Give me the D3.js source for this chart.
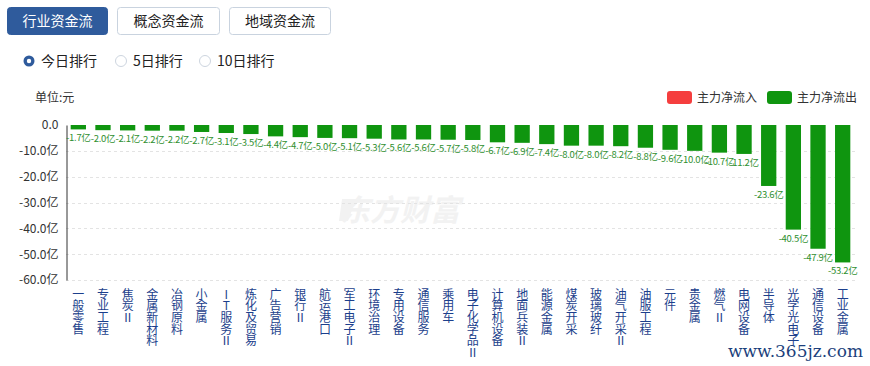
<!DOCTYPE html>
<html><head><meta charset="utf-8">
<script src="https://cdn.jsdelivr.net/npm/d3@7"></script>
<style>body{margin:0;background:#fff;}svg{display:block;font-family:"Microsoft YaHei","Noto Sans CJK SC",sans-serif;}
.vlab{writing-mode:vertical-rl;text-orientation:upright;}</style>
</head><body>
<svg id="c" width="870" height="366"></svg>
<script>
const categories = ["一般零售","专业工程","焦炭Ⅱ","金属新材料","冶钢原料","小金属","IT服务Ⅱ","炼化及贸易","广告营销","银行Ⅱ","航运港口","军工电子Ⅱ","环境治理","专用设备","通信服务","乘用车","电子化学品Ⅱ","计算机设备","地面兵装Ⅱ","能源金属","煤炭开采","玻璃玻纤","油气开采Ⅱ","油服工程","元件","贵金属","燃气Ⅱ","电网设备","半导体","光学光电子","通信设备","工业金属"];
const values = [-1.7,-2.0,-2.1,-2.2,-2.2,-2.7,-3.1,-3.5,-4.4,-4.7,-5.0,-5.1,-5.3,-5.6,-5.6,-5.7,-5.8,-6.7,-6.9,-7.4,-8.0,-8.0,-8.2,-8.8,-9.6,-10.0,-10.7,-11.2,-23.6,-40.5,-47.9,-53.2];
const yTicks = [0,-10,-20,-30,-40,-50,-60];
const tabs = ["行业资金流","概念资金流","地域资金流"];
const radios = ["今日排行","5日排行","10日排行"];
const legendItems = [{name:"主力净流入",color:"#f53e3e"},{name:"主力净流出",color:"#0f950f"}];

const svg = d3.select("#c");
const L = 66, R = 855, T = 125, B = 280;
const x = d3.scaleBand().domain(categories).range([L, R]).paddingInner(0.38).paddingOuter(0.19);
const y = d3.scaleLinear().domain([0, -60]).range([T, B]);

// tabs
const tabX = [7, 117, 229], tabW = [100, 102, 101];
tabs.forEach((t,i)=>{
  const g = svg.append("g");
  g.append("rect").attr("x",tabX[i]+0.5).attr("y",7.5).attr("width",tabW[i]).attr("height",27).attr("rx",3)
    .attr("fill", i===0?"#2f5b9c":"#fff").attr("stroke", i===0?"#2f5b9c":"#c9d3df");
  g.append("text").attr("x",tabX[i]+tabW[i]/2+0.5).attr("y",26).attr("text-anchor","middle")
    .attr("font-size",14).attr("fill", i===0?"#fff":"#222").text(t);
});
// radios
const rX = [29, 121, 205];
radios.forEach((t,i)=>{
  if(i===0){
    svg.append("circle").attr("cx",rX[i]).attr("cy",61).attr("r",5.5).attr("fill","#2f5b9c");
    svg.append("circle").attr("cx",rX[i]).attr("cy",61).attr("r",2.2).attr("fill","#fff");
  } else {
    svg.append("circle").attr("cx",rX[i]).attr("cy",61).attr("r",5.5).attr("fill","#fff").attr("stroke","#cdd5df");
  }
  svg.append("text").attr("x",rX[i]+12).attr("y",66).attr("font-size",14).attr("fill","#222").text(t);
});
// unit
svg.append("text").attr("x",35).attr("y",102).attr("font-size",12).attr("fill","#333").text("单位:元");
// legend
const lgX = [667, 767];
legendItems.forEach((d,i)=>{
  svg.append("rect").attr("x",lgX[i]).attr("y",91).attr("width",25).attr("height",13).attr("rx",3).attr("fill",d.color);
  svg.append("text").attr("x",lgX[i]+30).attr("y",102).attr("font-size",12).attr("fill","#333").text(d.name);
});

// watermark logo
const wm = svg.append("g");
wm.append("text").attr("x",400).attr("y",221).attr("text-anchor","middle").attr("font-size",30)
  .attr("font-weight","bold").attr("font-style","italic").attr("fill","#f2f2f2").text("东方财富");
wm.append("path").attr("d","M342,199 l14,0 l-8,22 l-9,0 z").attr("fill","#f2f2f2");

// gridlines
svg.append("g").selectAll("line").data(yTicks.slice(1)).join("line")
  .attr("x1",L).attr("x2",R).attr("y1",d=>Math.round(y(d))+0.5).attr("y2",d=>Math.round(y(d))+0.5)
  .attr("stroke","#e3e3e3").attr("stroke-dasharray","3,3");

// y axis
const yAxis = d3.axisLeft(y).tickValues(yTicks).tickSize(0).tickPadding(8)
  .tickFormat(d=> d===0 ? "0.0" : d.toFixed(1)+"亿");
const ya = svg.append("g").attr("transform",`translate(${L+0.5},0)`).call(yAxis);
ya.select(".domain").attr("stroke","#333");
ya.selectAll("text").attr("font-size",12).attr("fill","#333").attr("font-family","\"Microsoft YaHei\",\"Noto Sans CJK SC\",sans-serif");

// bars
svg.append("g").selectAll("rect").data(values).join("rect")
  .attr("x",(d,i)=>x(categories[i])).attr("y",y(0)).attr("width",x.bandwidth())
  .attr("height",d=>y(d)-y(0)).attr("fill","#0f950f");

// value labels
svg.append("g").selectAll("text").data(values).join("text")
  .attr("x",(d,i)=>x(categories[i])+x.bandwidth()/2).attr("y",d=>y(d)+12)
  .attr("text-anchor","middle").attr("font-size",9.5).attr("fill","#2f8f2f").attr("letter-spacing","-0.3")
  .text(d=>d.toFixed(1)+"亿");

// x labels (vertical)
svg.append("g").selectAll("text").data(categories).join("text")
  .attr("class","vlab")
  .attr("x",d=>x(d)+x.bandwidth()/2).attr("y",288)
  .attr("font-size",12).attr("letter-spacing","-0.3").attr("fill","#1c3f8c")
  .text(d=>d);

// site watermark
svg.append("text").attr("x",863).attr("y",357).attr("text-anchor","end").attr("font-size",17)
  .attr("font-family","\"DejaVu Serif\",\"Liberation Serif\",serif").attr("fill","#1c3f7c").text("www.365jz.com");
</script>
</body></html>
